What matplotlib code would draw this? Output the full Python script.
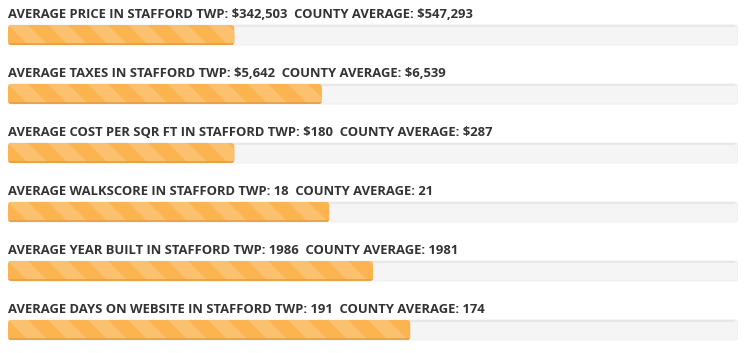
import matplotlib
matplotlib.use("Agg")
import matplotlib.pyplot as plt
from matplotlib.patches import FancyBboxPatch, Polygon

# ---- data ----
metrics = ["PRICE", "TAXES", "COST PER SQR FT", "WALKSCORE", "YEAR BUILT", "DAYS ON WEBSITE"]
local_values = ["$342,503", "$5,642", "$180", "18", "1986", "191"]
county_values = ["$547,293", "$6,539", "$287", "21", "1981", "174"]
bar_pct = [31.0, 43.0, 31.0, 44.0, 50.0, 55.1]  # fill of each bar, % of track
place = "STAFFORD TWP"

# ---- layout / style ----
W, H = 753, 353
track_left, track_right = 8, 738
track_w = track_right - track_left
row_pitch = 59
first_bar_top = 25
bar_h = 20
text_gap = 7
radius = 3.5

orange = "#fbb450"
orange_light = "#fcc16e"
track_col = "#f5f5f5"
text_col = "#333333"

fig = plt.figure(figsize=(W / 100, H / 100), dpi=100)
fig.patch.set_facecolor("white")
ax = fig.add_axes([track_left / W, 0, track_w / W, 1])
ax.set_xlim(0, track_w)
ax.set_ylim(H, 0)
ax.axis("off")

for i, (m, lv, cv, pct) in enumerate(zip(metrics, local_values, county_values, bar_pct)):
    top = first_bar_top + i * row_pitch
    label = f"AVERAGE {m} IN {place}: {lv}  COUNTY AVERAGE: {cv}"
    ax.text(0, top - text_gap, label, ha="left", va="baseline",
            fontsize=9.4, fontweight="bold", color=text_col, parse_math=False,
            family=["Open Sans", "DejaVu Sans"])

    # track
    track = FancyBboxPatch((0, top), track_w, bar_h,
                           boxstyle=f"round,pad=0,rounding_size={radius}",
                           facecolor=track_col, edgecolor="#ececec", lw=0.6, zorder=1)
    ax.add_patch(track)
    # inner top shadow
    ax.plot([radius, track_w - radius], [top + 1.2, top + 1.2], color="#e6e6e6", lw=1.2,
            zorder=1.5, solid_capstyle="butt")

    # filled bar
    fill_w = track_w * pct / 100.0
    bar = FancyBboxPatch((0, top), fill_w, bar_h,
                         boxstyle=f"round,pad=0,rounding_size={radius}",
                         facecolor=orange, edgecolor="none", zorder=2)
    ax.add_patch(bar)
    # stripes
    k = -1
    while 40 * k < fill_w + 40:
        x0 = 40 * k
        poly = Polygon([(x0, top), (x0 + 20, top), (x0 + 20 + bar_h, top + bar_h),
                        (x0 + bar_h, top + bar_h)], closed=True,
                       facecolor=orange_light, edgecolor="none", zorder=3)
        ax.add_patch(poly)
        poly.set_clip_path(bar)
        k += 1
    # bottom darker edge
    edge = ax.plot([0, fill_w], [top + bar_h - 0.7, top + bar_h - 0.7],
                   color="#e4a043", lw=1.2, zorder=4, solid_capstyle="butt")[0]
    edge.set_clip_path(bar)

fig.savefig("out.png", dpi=100, facecolor="white")
